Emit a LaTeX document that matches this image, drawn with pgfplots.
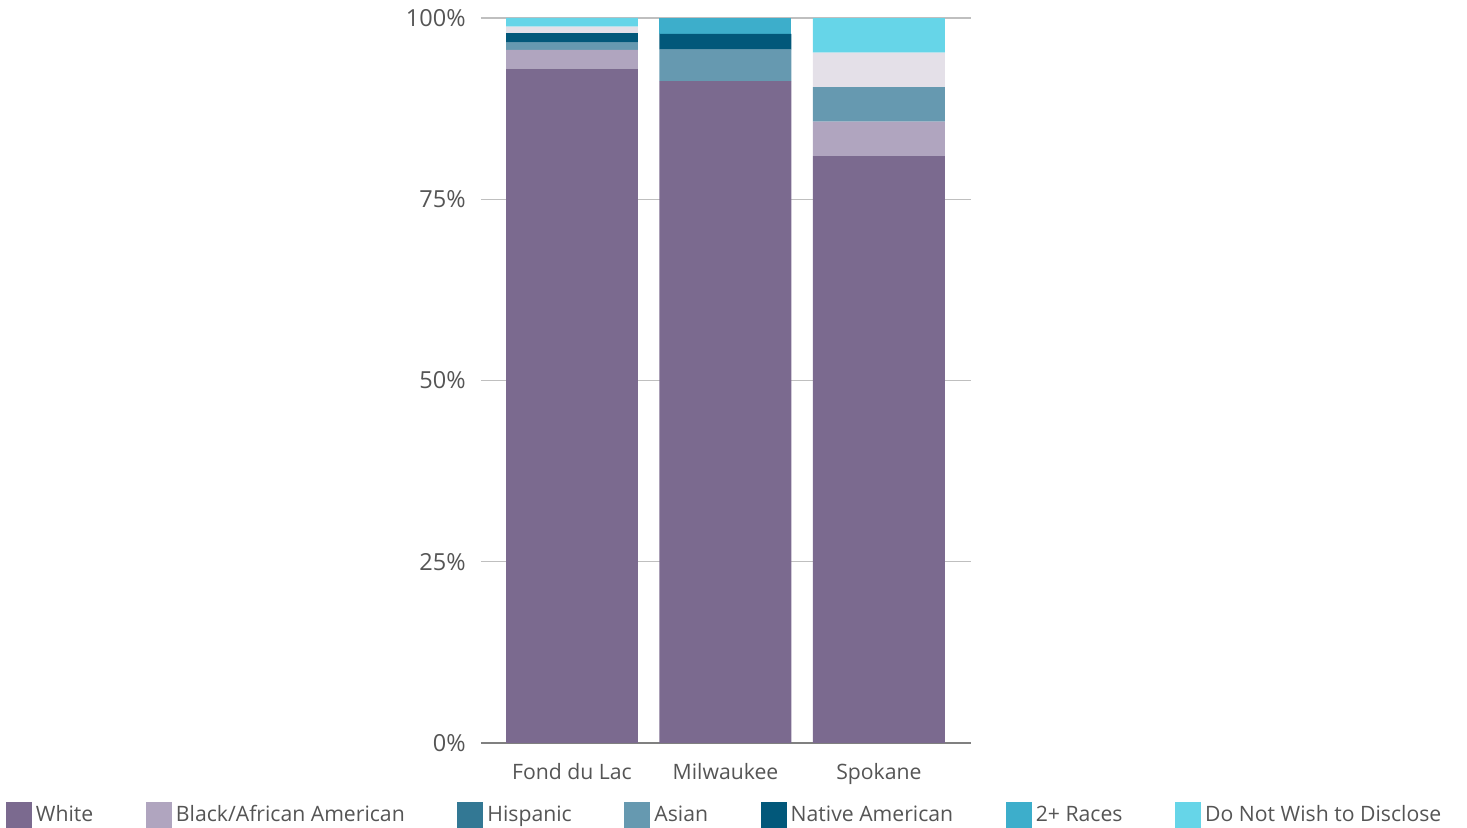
\documentclass[border=0pt]{standalone}
\usepackage{fontspec}
\setmainfont{Open Sans}
\usepackage{pgfplots}
\pgfplotsset{compat=1.18}
\definecolor{cWhite}{HTML}{7B6A8F}
\definecolor{cBlack}{HTML}{B0A5BF}
\definecolor{cHisp}{HTML}{337894}
\definecolor{cAsian}{HTML}{6699B0}
\definecolor{cNative}{HTML}{02587A}
\definecolor{cTwo}{HTML}{3DAECB}
\definecolor{cOther}{HTML}{E4E0E8}
\definecolor{cDisc}{HTML}{66D5E8}
\definecolor{txt}{HTML}{555555}
\begin{document}
\begin{tikzpicture}
\useasboundingbox (-240.5pt,-42.5pt) rectangle (493pt,371.5pt);
\begin{axis}[
  at={(0,0)}, anchor=south west,
  scale only axis, width=245pt, height=362.5pt,
  ybar stacked, bar width=0.86,
  xmin=-0.593, xmax=2.6, ymin=0, ymax=100,
  xtick={0,1,2}, xticklabels={Fond du Lac,Milwaukee,Spokane},
  ytick={25,50,75,100}, yticklabels={25\%,50\%,75\%,100\%},
  extra y ticks={0}, extra y tick labels={0\%},
  extra y tick style={grid style={color=black!50, line width=0.6pt}},
  ymajorgrids, grid style={color=black!25, line width=0.6pt},
  axis line style={draw=none}, major tick length=0pt, tick style={draw=none},
  yticklabel style={font=\fontsize{11.75}{14}\selectfont, text=txt, anchor=east, inner sep=0pt, xshift=-7.5pt},
  xticklabel style={font=\fontsize{10.6}{13}\selectfont, text=txt, anchor=north, inner sep=0pt, yshift=-10pt},
  legend columns=8,
  legend style={draw=none, fill=none, inner sep=0pt, outer sep=0pt,
    at={(-0.9694,-0.0995)}, anchor=west,
    nodes={inner sep=0pt, font=\fontsize{10.6}{13}\selectfont, text=txt},
    /tikz/every odd column/.append style={column sep=2pt},
    /tikz/every even column/.append style={column sep=26.3pt}},
  legend image code/.code={\fill[#1] (0pt,-6.5pt) rectangle (13pt,6.5pt);},
  every axis plot/.append style={draw=none},
]
\addplot[fill=cWhite] coordinates {(0,93.0) (1,91.3) (2,80.95)};
\addlegendentry{White}
\addplot[fill=cBlack] coordinates {(0,2.6) (1,0) (2,4.76)};
\addlegendentry{Black/African American}
\addplot[fill=cHisp] coordinates {(0,0) (1,0) (2,0)};
\addlegendentry{Hispanic}
\addplot[fill=cAsian] coordinates {(0,1.0) (1,4.35) (2,4.76)};
\addlegendentry{Asian}
\addplot[fill=cNative] coordinates {(0,1.3) (1,2.17) (2,0)};
\addlegendentry{Native American}
\addplot[fill=cTwo] coordinates {(0,0) (1,2.17) (2,0)};
\addlegendentry{2+ Races}
\addplot[fill=cOther, forget plot] coordinates {(0,0.9) (1,0) (2,4.76)};
\addplot[fill=cDisc] coordinates {(0,1.2) (1,0) (2,4.76)};
\addlegendentry{Do Not Wish to Disclose}
\end{axis}
\end{tikzpicture}
\end{document}
